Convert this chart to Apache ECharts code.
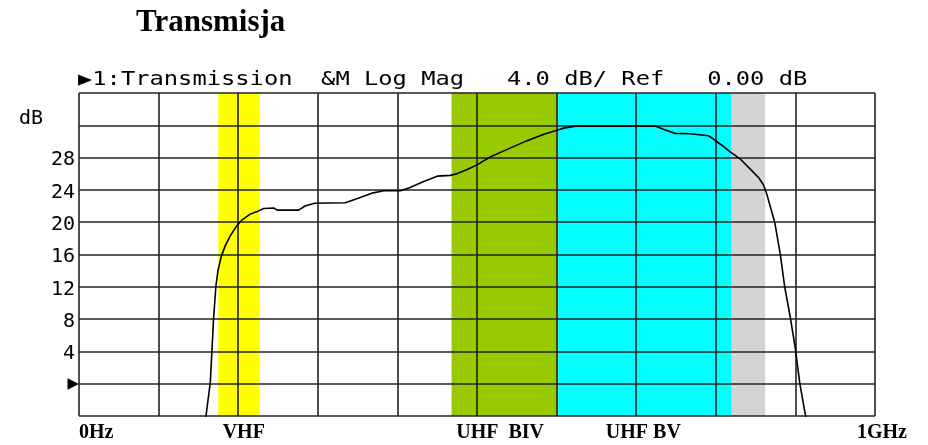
<!DOCTYPE html>
<html>
<head>
<meta charset="utf-8">
<script src="https://cdn.jsdelivr.net/npm/echarts@6/dist/echarts.min.js"></script>
<style>
  html, body { margin: 0; padding: 0; background: #fff; }
  #chart { width: 928px; height: 445px; }
</style>
</head>
<body>
<div id="chart"></div>
<script>
// trace (MHz, dB)
var freqMHz = [159, 165, 167, 169, 172, 174.6, 178.8, 183.8, 190, 198.5, 205, 215, 225.6, 232, 244.5, 249, 276, 284, 296,
  334.5, 349, 368, 383, 404, 416, 433, 450, 466.5, 473, 487, 500, 517, 533, 563, 584, 600.5, 609, 623.5,
  724, 734, 749, 768, 791, 797, 808, 818, 831, 843, 854, 860, 864, 874, 881, 886.4, 893.6, 900, 905.3, 912.4, 914];
var gainDb = [-4.4, 0.2, 4.1, 8.0, 12.1, 14.0, 15.8, 17.1, 18.3, 19.6, 20.3, 21.0, 21.4, 21.7, 21.75, 21.5, 21.5, 22.0, 22.35,
  22.4, 22.9, 23.6, 23.9, 23.9, 24.3, 25.05, 25.7, 25.8, 25.95, 26.5, 27.1, 28.1, 28.8, 30.1, 30.9, 31.4, 31.65, 31.9,
  31.9, 31.5, 31.0, 30.95, 30.7, 30.3, 29.5, 28.7, 27.8, 26.6, 25.5, 24.6, 23.5, 20.0, 16.05, 12.1, 8.2, 4.3, 0.2, -3.8, -4.4];

// TV bands (MHz)
var bandStart = [175, 468, 602, 820];
var bandEnd = [227, 602, 820, 862];
var bandColors = ['#ffff00', '#99c900', '#00ffff', '#d4d4d4'];

// bottom labels and where they sit on the frequency axis
var xLabelNames = ['0Hz', 'VHF', 'UHF  BIV', 'UHF BV', '1GHz'];
var xLabelAt = [0, 207, 529, 709, 1000];

var header = '\u25B61:Transmission  &M Log Mag   4.0 dB/ Ref   0.00 dB';

var chart = echarts.init(document.getElementById('chart'));

var pts = [];
for (var i = 0; i < freqMHz.length; i++) pts.push([freqMHz[i], gainDb[i]]);

var areas = [];
for (var j = 0; j < bandStart.length; j++) {
  areas.push([
    { xAxis: bandStart[j], itemStyle: { color: bandColors[j], opacity: 1 } },
    { xAxis: bandEnd[j] }
  ]);
}

var gridLine = { show: true, lineStyle: { color: '#222', width: 1.6 } };

chart.setOption({
  backgroundColor: '#fff',
  animation: false,
  title: {
    text: 'Transmisja',
    left: 131,
    top: 2,
    textStyle: { fontFamily: 'Liberation Serif', fontSize: 31, fontWeight: 'bold', color: '#000' }
  },
  grid: { left: 79, right: 53, top: 93, bottom: 29 },
  xAxis: {
    type: 'value',
    min: 0, max: 1000, interval: 100,
    z: 3,
    axisLine: { show: false },
    axisTick: { show: false },
    splitLine: gridLine,
    axisLabel: {
      customValues: xLabelAt,
      margin: 7,
      alignMinLabel: 'left',
      fontFamily: 'Liberation Serif', fontSize: 20, fontWeight: 'bold', color: '#000',
      formatter: function (v) {
        var k = xLabelAt.indexOf(v);
        if (k < 0) return '';
        if (v === 1000) return '{e|' + xLabelNames[k] + '}';
        return xLabelNames[k];
      },
      rich: {
        e: { fontFamily: 'Liberation Serif', fontSize: 20, fontWeight: 'bold', color: '#000', padding: [0, 0, 0, 14] }
      }
    }
  },
  yAxis: {
    type: 'value',
    min: -4, max: 36, interval: 4,
    z: 3,
    axisLine: { show: false },
    axisTick: { show: false },
    splitLine: gridLine,
    axisLabel: {
      margin: 4,
      fontFamily: 'DejaVu Sans Mono', fontSize: 20, color: '#000',
      padding: [5, 0, 0, 0],
      formatter: function (v) {
        if (v === 0) return '{m|\u25B6}';
        if (v >= 4 && v <= 28) return String(v);
        return '';
      },
      rich: {
        m: { fontFamily: 'DejaVu Sans', fontSize: 15, color: '#000', padding: [0, -4, 4, 0] }
      }
    }
  },
  graphic: [
    {
      type: 'text', x: 78, y: 80, scaleX: 1.25,
      style: { text: header, fontFamily: 'DejaVu Sans Mono', fontSize: 19, fill: '#000', verticalAlign: 'middle' }
    },
    {
      type: 'text', x: 19, y: 119,
      style: { text: 'dB', fontFamily: 'DejaVu Sans Mono', fontSize: 20, fill: '#000', verticalAlign: 'middle' }
    }
  ],
  series: [{
    type: 'line',
    z: 4,
    data: pts,
    symbol: 'none',
    clip: true,
    lineStyle: { color: '#000', width: 1.6 },
    markArea: { silent: true, z: 1, data: areas }
  }]
});
</script>
</body>
</html>
